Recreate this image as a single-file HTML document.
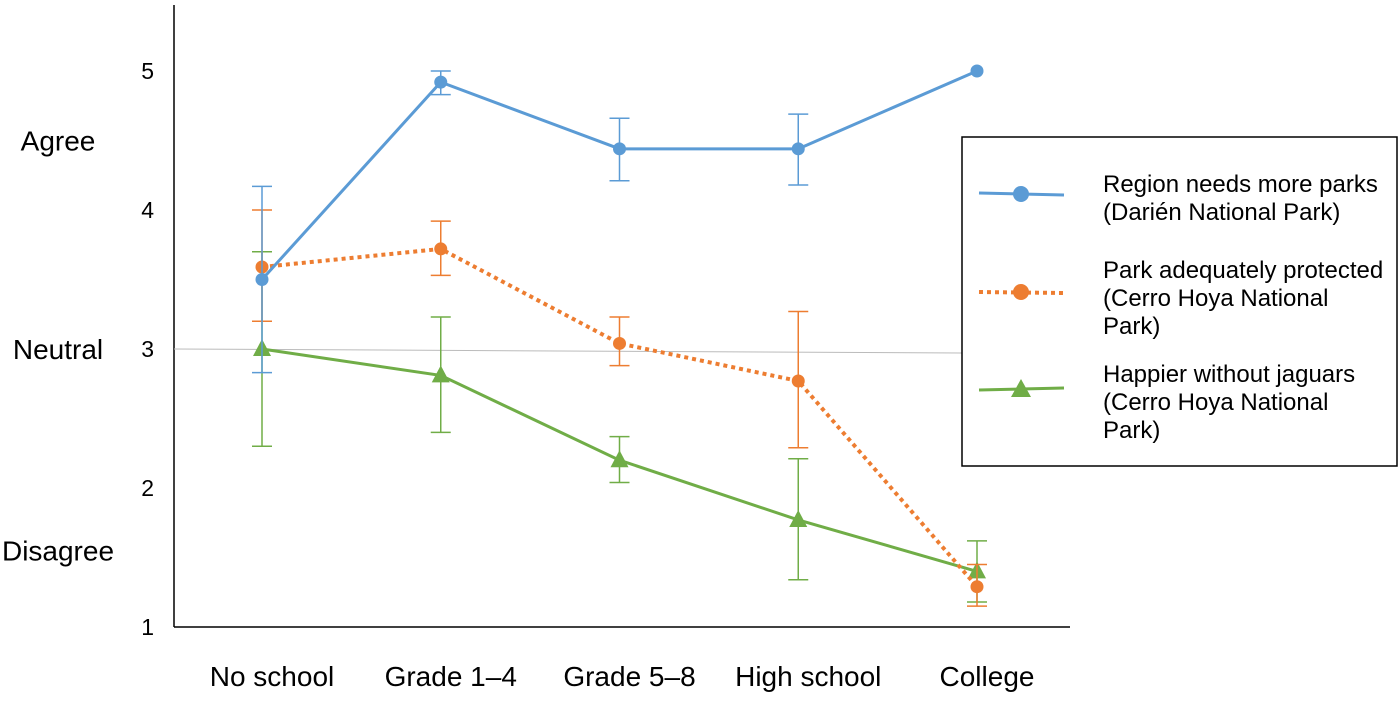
<!DOCTYPE html>
<html><head><meta charset="utf-8"><style>
html,body{margin:0;padding:0;background:#fff;}
svg text{font-family:"Liberation Sans",Arial,sans-serif;fill:#000;}
</style></head><body>
<svg id="chart" width="1400" height="696" viewBox="0 0 1400 696" xmlns="http://www.w3.org/2000/svg">
<g id="axes"></g>
<g id="plot"></g>
<g id="legend">
<rect x="962" y="137" width="435" height="329" fill="#fff" stroke="#000" stroke-width="1.5"/>
<line x1="979" y1="193" x2="1064" y2="195" stroke="#5b9bd5" stroke-width="3"/>
<circle cx="1021" cy="194" r="8" fill="#5b9bd5"/>
<text x="1103" y="192" font-size="24">Region needs more parks</text>
<text x="1103" y="220" font-size="24">(Darién National Park)</text>
<line x1="979" y1="292" x2="1064" y2="293" stroke="#ed7d31" stroke-width="4" stroke-dasharray="4,4"/>
<circle cx="1021" cy="292" r="8" fill="#ed7d31"/>
<text x="1103" y="278" font-size="24">Park adequately protected</text>
<text x="1103" y="306" font-size="24">(Cerro Hoya National</text>
<text x="1103" y="334" font-size="24">Park)</text>
<line x1="979" y1="390" x2="1064" y2="388" stroke="#70ad47" stroke-width="3"/>
<polygon points="1021,379 1031,397 1011,397" fill="#70ad47"/>
<text x="1103" y="382" font-size="24">Happier without jaguars</text>
<text x="1103" y="410" font-size="24">(Cerro Hoya National</text>
<text x="1103" y="438" font-size="24">Park)</text>
</g>
</svg>
<script>
const categories=["No school","Grade 1–4","Grade 5–8","High school","College"];
const yTicks=[1,2,3,4,5];
const parksVals=[3.5,4.92,4.44,4.44,5.0];
const parksHi=[4.17,5.0,4.66,4.69,null];
const parksLo=[2.83,4.83,4.21,4.18,null];
const protVals=[3.59,3.72,3.04,2.77,1.29];
const protHi=[4.0,3.92,3.23,3.27,1.45];
const protLo=[3.2,3.53,2.88,2.29,1.15];
const jagVals=[3.0,2.81,2.2,1.77,1.4];
const jagHi=[3.7,3.23,2.37,2.21,1.62];
const jagLo=[2.3,2.4,2.04,1.34,1.18];
const NS="http://www.w3.org/2000/svg";
const yS=v=>627-(v-1)*139;
const xS=i=>262+i*178.75;
function mk(p,tag,at){const e=document.createElementNS(NS,tag);for(const k in at)e.setAttribute(k,at[k]);p.appendChild(e);return e;}
const ax=document.getElementById('axes'),pl=document.getElementById('plot');
mk(ax,'line',{x1:174,y1:5,x2:174,y2:627,stroke:'#000','stroke-width':1.5});
mk(ax,'line',{x1:174,y1:627,x2:1070,y2:627,stroke:'#000','stroke-width':1.5});
mk(ax,'line',{x1:174,y1:yS(3),x2:962,y2:yS(3)+4,stroke:'#bbb','stroke-width':1});
yTicks.forEach(t=>{const e=mk(ax,'text',{x:154,y:yS(t)+8,'font-size':23,'text-anchor':'end'});e.textContent=t;

});
categories.forEach((c,i)=>{const e=mk(ax,'text',{x:xS(i)+10,y:686,'font-size':28,'text-anchor':'middle'});e.textContent=c;

});
[["Agree",4.5],["Neutral",3],["Disagree",1.55]].forEach(([t,v])=>{const e=mk(ax,'text',{x:58,y:yS(v)+10,'font-size':28,'text-anchor':'middle'});e.textContent=t;

});
function series(vals,hi,lo,col,dash,marker,name){
const g=mk(pl,'g',{});


vals.forEach((v,i)=>{if(hi[i]==null)return;const x=xS(i);
mk(g,'line',{x1:x,y1:yS(hi[i]),x2:x,y2:yS(lo[i]),stroke:col,'stroke-width':1.5});
mk(g,'line',{x1:x-10,y1:yS(hi[i]),x2:x+10,y2:yS(hi[i]),stroke:col,'stroke-width':1.5});
mk(g,'line',{x1:x-10,y1:yS(lo[i]),x2:x+10,y2:yS(lo[i]),stroke:col,'stroke-width':1.5});});
mk(g,'polyline',{points:vals.map((v,i)=>xS(i)+','+yS(v)).join(' '),fill:'none',stroke:col,'stroke-width':dash?4:3,'stroke-dasharray':dash?'4,4':'none'});
vals.forEach((v,i)=>{const x=xS(i),y=yS(v);let m;
if(marker==='c')m=mk(g,'circle',{cx:x,cy:y,r:6.5,fill:col});
else m=mk(g,'polygon',{points:`${x},${y-10} ${x+9},${y+7} ${x-9},${y+7}`,fill:col});

});
}
series(jagVals,jagHi,jagLo,'#70ad47',false,'t','series-jaguars');
series(protVals,protHi,protLo,'#ed7d31',true,'c','series-protected');
series(parksVals,parksHi,parksLo,'#5b9bd5',false,'c','series-parks');
</script>
</body></html>
